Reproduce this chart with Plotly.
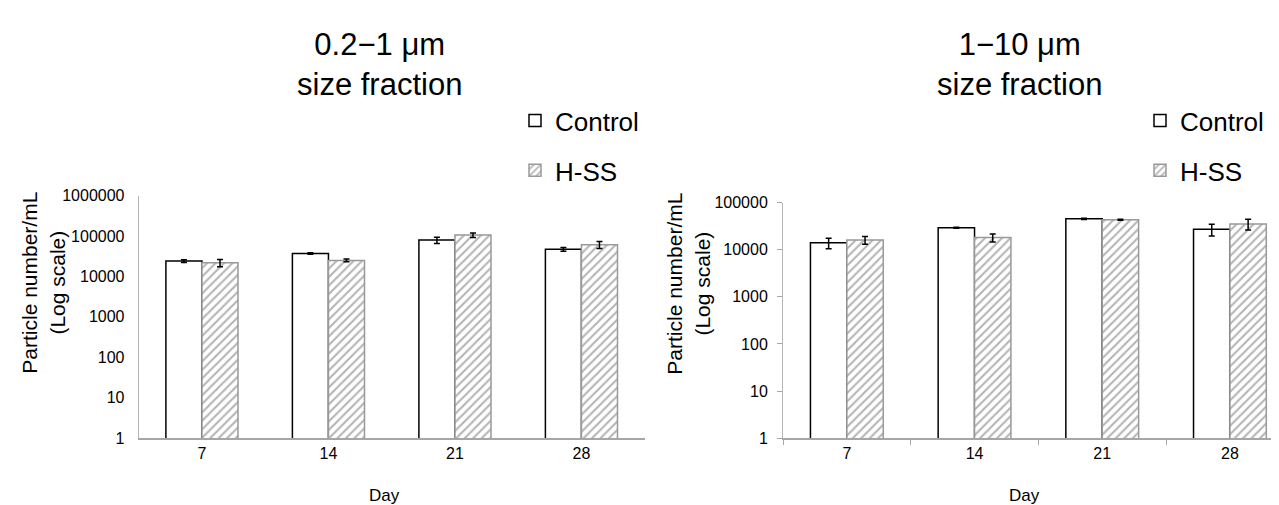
import plotly.graph_objects as go

days = ["7", "14", "21", "28"]

# 0.2-1 um size fraction
control_small = [24000, 37000, 80000, 47000]
control_small_err = [1800, 1500, 14000, 5000]
hss_small = [22000, 25000, 106000, 61000]
hss_small_err = [4500, 2000, 14000, 12000]

# 1-10 um size fraction
control_large = [14000, 29000, 45000, 27000]
control_large_err = [3500, 700, 1200, 7500]
hss_large = [16000, 18000, 43000, 35000]
hss_large_err = [3000, 3500, 1200, 9000]

W, H = 1279, 505
FONT = "Arial, Liberation Sans, sans-serif"

def px(x):
    return x / W

def py(y):
    return (H - y) / H

fig = go.Figure()

ctrl_style = dict(marker=dict(color="white", line=dict(color="black", width=1.5)))
hss_style = dict(marker=dict(color="white", line=dict(color="#999999", width=1.5),
                             pattern=dict(shape="/", fgcolor="#6a6a6a", bgcolor="white",
                                          size=6, solidity=0.35)))
err_style = dict(type="data", color="black", thickness=1.5, width=3)

fig.add_trace(go.Bar(x=days, y=control_small, name="Control", xaxis="x", yaxis="y",
                     error_y=dict(array=control_small_err, **err_style), legend="legend",
                     **ctrl_style))
fig.add_trace(go.Bar(x=days, y=hss_small, name="H-SS", xaxis="x", yaxis="y",
                     error_y=dict(array=hss_small_err, **err_style), legend="legend",
                     legendgroup="b1", **hss_style))
fig.add_trace(go.Bar(x=days, y=control_large, name="Control", xaxis="x2", yaxis="y2",
                     error_y=dict(array=control_large_err, **err_style), legend="legend2",
                     **ctrl_style))
fig.add_trace(go.Bar(x=days, y=hss_large, name="H-SS", xaxis="x2", yaxis="y2",
                     error_y=dict(array=hss_large_err, **err_style), legend="legend2",
                     legendgroup="b2", **hss_style))

tickfont = dict(family=FONT, size=16, color="black")

fig.update_layout(
    width=W, height=H,
    margin=dict(l=0, r=0, t=0, b=0),
    paper_bgcolor="white", plot_bgcolor="white",
    font=dict(family=FONT, color="black"),
    barmode="group", bargap=0.43, bargroupgap=0,
    xaxis=dict(domain=[px(130.7), px(636.7)], anchor="y", type="category",
               range=[-0.5, 3.5], showline=True, linecolor="#a6a6a6", linewidth=1.5,
               ticks="", tickfont=tickfont, showgrid=False, zeroline=False),
    yaxis=dict(domain=[py(436.6), py(186)], anchor="x", type="log", range=[0, 6],
               showline=True, linecolor="#b5b5b5", linewidth=1, ticks="",
               tickvals=[1, 10, 100, 1000, 10000, 100000, 1000000],
               ticktext=["1", "10", "100", "1000", "10000", "100000", "1000000"],
               tickfont=tickfont, showgrid=False, zeroline=False, ticklabelstandoff=10),
    xaxis2=dict(domain=[px(775), 1.0], anchor="y2", type="category",
                range=[-0.5, 3.447], showline=True, linecolor="#a6a6a6", linewidth=1.5,
                ticks="outside", tickson="boundaries", ticklen=5, tickcolor="#a6a6a6",
                tickfont=tickfont, showgrid=False, zeroline=False),
    yaxis2=dict(domain=[py(437), py(193)], anchor="x2", type="log", range=[0, 5],
                showline=True, linecolor="#b5b5b5", linewidth=1, ticks="outside",
                ticklen=5, tickcolor="#a6a6a6",
                tickvals=[1, 10, 100, 1000, 10000, 100000],
                ticktext=["1", "10", "100", "1000", "10000", "100000"],
                tickfont=tickfont, showgrid=False, zeroline=False, ticklabelstandoff=6),
    legend=dict(x=px(507), y=py(84), xanchor="left", yanchor="top",
                font=dict(family=FONT, size=26, color="black"),
                tracegroupgap=13, bgcolor="rgba(0,0,0,0)", itemclick=False),
    legend2=dict(x=px(1132), y=py(84), xanchor="left", yanchor="top",
                 font=dict(family=FONT, size=26, color="black"),
                 tracegroupgap=13, bgcolor="rgba(0,0,0,0)", itemclick=False),
    showlegend=True,
)

annotations = [
    dict(text="0.2\u22121 \u03bcm<br>size fraction", x=px(371.5), y=py(50), xref="paper",
         yref="paper", xanchor="center", yanchor="middle", showarrow=False,
         font=dict(family=FONT, size=31, color="black")),
    dict(text="1\u221210 \u03bcm<br>size fraction", x=px(1012), y=py(50), xref="paper",
         yref="paper", xanchor="center", yanchor="middle", showarrow=False,
         font=dict(family=FONT, size=31, color="black")),
    dict(text="Particle number/mL<br>(Log scale)", x=px(35), y=py(276), xref="paper",
         yref="paper", xanchor="center", yanchor="middle", textangle=-90, showarrow=False,
         font=dict(family=FONT, size=21, color="black")),
    dict(text="Particle number/mL<br>(Log scale)", x=px(680), y=py(277), xref="paper",
         yref="paper", xanchor="center", yanchor="middle", textangle=-90, showarrow=False,
         font=dict(family=FONT, size=21, color="black")),
    dict(text="Day", x=px(376), y=py(496), xref="paper", yref="paper", xanchor="center",
         yanchor="middle", showarrow=False, font=dict(family=FONT, size=17, color="black")),
    dict(text="Day", x=px(1016), y=py(496), xref="paper", yref="paper", xanchor="center",
         yanchor="middle", showarrow=False, font=dict(family=FONT, size=17, color="black")),
]
fig.update_layout(annotations=annotations)

fig.write_html("out.html")
